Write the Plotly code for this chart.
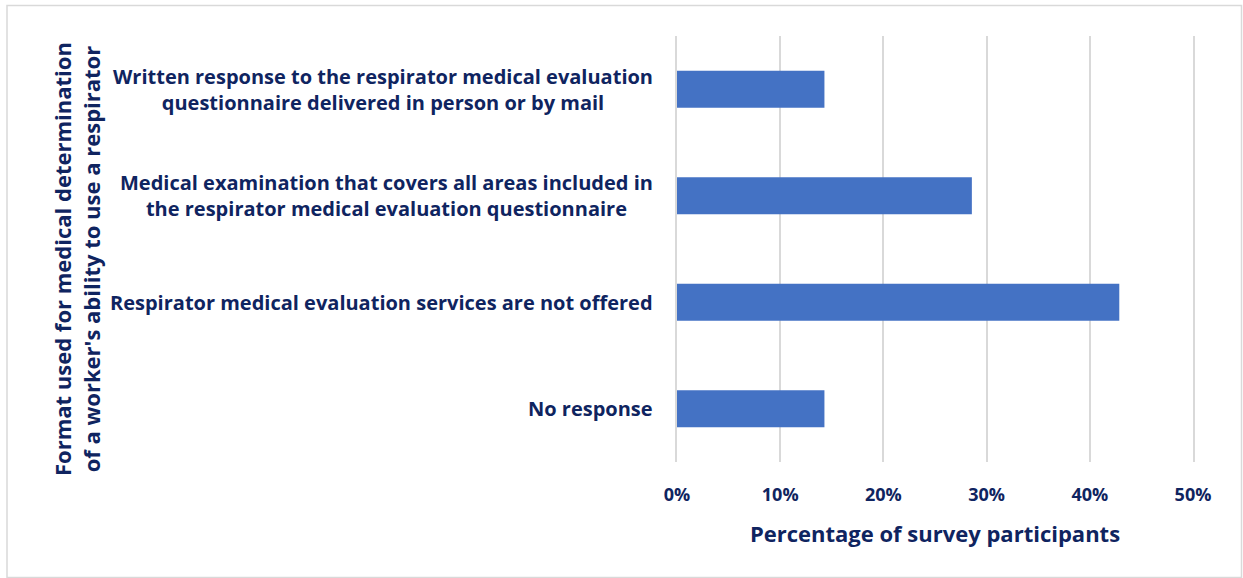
import plotly.graph_objects as go

# Survey results: format used for respirator medical determination
categories = [
    "Written response to the respirator medical evaluation<br>questionnaire delivered in person or by mail",
    "Medical examination that covers all areas included in<br>the respirator medical evaluation questionnaire",
    "Respirator medical evaluation services are not offered",
    "No response",
]
shares = [1 / 7, 2 / 7, 3 / 7, 1 / 7]  # fraction of survey participants
x_ticks = [0, 0.1, 0.2, 0.3, 0.4, 0.5]
x_tick_labels = ["0%", "10%", "20%", "30%", "40%", "50%"]

x_title = "Percentage of survey participants"
y_title = "Format used for medical determination<br>of a worker's ability to use a respirator"

NAVY = "#0F2460"
BAR = "#4472C4"
GRID = "#D9D9D9"
FONT = "Open Sans"

W, H = 1243, 578
L, R, T, B = 677, 50, 36, 116
pw, ph = W - L - R, H - T - B


def px_x(p):
    return (p - L) / pw


def px_y(p):
    return (H - B - p) / ph


fig = go.Figure(
    go.Bar(
        x=shares,
        y=list(range(len(categories))),
        orientation="h",
        marker=dict(color=BAR, line=dict(width=0)),
        hoverinfo="skip",
    )
)

annotations = []
for i, cat in enumerate(categories):
    annotations.append(
        dict(
            x=px_x(655), xref="paper", xanchor="right",
            y=i, yref="y", yanchor="middle",
            text=cat, showarrow=False, align="center",
            font=dict(family=FONT, size=20, color=NAVY, weight="bold"),
        )
    )

annotations.append(
    dict(
        x=px_x(76), xref="paper", xanchor="center",
        y=px_y(259), yref="paper", yanchor="middle",
        text=y_title, showarrow=False, align="center", textangle=-90,
        font=dict(family=FONT, size=22, color=NAVY, weight="bold"),
    )
)

fig.update_layout(
    width=W, height=H,
    margin=dict(l=L, r=R, t=T, b=B, pad=0),
    paper_bgcolor="white", plot_bgcolor="white",
    showlegend=False,
    bargap=0.653,
    annotations=annotations,
    shapes=[
        dict(
            type="rect", xref="paper", yref="paper",
            x0=px_x(7), x1=px_x(1241.5), y0=px_y(577.5), y1=px_y(5.5),
            line=dict(color=GRID, width=1.5), fillcolor="rgba(0,0,0,0)",
            layer="below",
        )
    ],
    xaxis=dict(
        range=[0, 0.5],
        tickvals=x_ticks, ticktext=x_tick_labels,
        showgrid=True, gridcolor=GRID, gridwidth=2,
        zeroline=False, showline=False, ticks="",
        ticklabelstandoff=20,
        tickfont=dict(family=FONT, size=18, color=NAVY, weight="bold"),
        title=dict(
            text=x_title, standoff=21,
            font=dict(family=FONT, size=22, color=NAVY, weight="bold"),
        ),
        fixedrange=True,
    ),
    yaxis=dict(
        range=[3.5, -0.5],
        showticklabels=False, showgrid=False, zeroline=False,
        showline=True, mirror=True, linecolor=GRID, linewidth=2,
        ticks="", fixedrange=True,
    ),
)

fig.write_html("out.html")
